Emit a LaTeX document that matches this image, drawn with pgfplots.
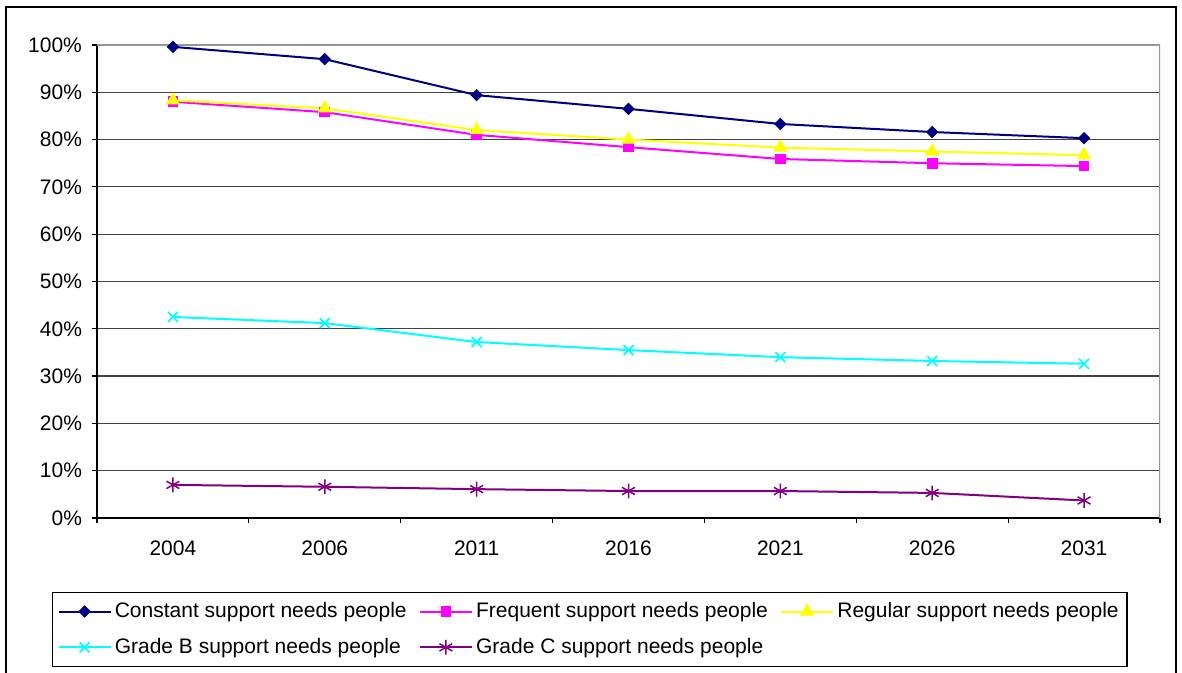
\documentclass[border=0pt]{standalone}
\usepackage{pgfplots}
\pgfplotsset{compat=1.18}
\usepackage{fontspec}
\setmainfont{Liberation Sans}

\definecolor{cNavy}{RGB}{0,0,128}
\definecolor{cMagenta}{RGB}{255,0,255}
\definecolor{cYellow}{RGB}{255,255,0}
\definecolor{cCyan}{RGB}{0,255,255}
\definecolor{cPurple}{RGB}{128,0,128}
\definecolor{cGrid}{RGB}{64,64,64}
\definecolor{cFrame}{RGB}{150,150,150}

\begin{document}
\begin{tikzpicture}
\begin{axis}[
  scale only axis,
  width=531.5pt, height=236.5pt,
  xmin=-0.5, xmax=6.5,
  ymin=0, ymax=100,
  xtick={0,...,6},
  xticklabels={2004,2006,2011,2016,2021,2026,2031},
  minor xtick={-0.5,0.5,...,6.5},
  ytick={0,10,...,100},
  yticklabel={\pgfmathprintnumber{\tick}\%},
  /pgf/number format/assume math mode=true,
  axis x line*=bottom,
  axis y line*=left,
  axis line style={-, black, line width=0.6pt},
  tick align=outside,
  major tick length=2.5pt,
  minor tick length=2.5pt,
  major x tick style={draw=none},
  every tick/.style={black, line width=0.6pt},
  ymajorgrids,
  major grid style={cGrid, line width=0.6pt},
  tick label style={font=\fontsize{10.5}{12}\selectfont},
  yticklabel style={xshift=-1.5pt},
  xticklabel style={yshift=-5.5pt},
  legend columns=3,
  legend cell align=left,
  legend image code/.code={%
    \draw[mark repeat=2,mark phase=2,#1] plot coordinates {(0pt,0pt) (13pt,0pt) (26pt,0pt)};},
  legend style={
    at={(-0.04233,-0.1565)}, anchor=north west,
    draw=black, line width=0.6pt,
    font=\fontsize{10.5}{12}\selectfont,
    inner xsep=2.5pt, inner ysep=0.5pt,
    nodes={inner xsep=1.6pt, inner ysep=4.4pt},
    /tikz/every even column/.append style={column sep=4.5pt},
  },
  every axis plot/.append style={line width=1pt},
]
\draw[cFrame, line width=0.9pt] (rel axis cs:0,1) -- (rel axis cs:1,1) -- (rel axis cs:1,0);

\addplot[color=cNavy, mark=square*, mark size=1.95pt, mark options={rotate=45, line width=0.5pt}]
  coordinates {(0,99.6) (1,97.0) (2,89.4) (3,86.5) (4,83.3) (5,81.6) (6,80.3)};
\addlegendentry{Constant support needs people}

\addplot[color=cMagenta, mark=square*, mark size=2.4pt, mark options={line width=0.5pt}]
  coordinates {(0,88.0) (1,85.8) (2,81.0) (3,78.4) (4,75.9) (5,75.0) (6,74.4)};
\addlegendentry{Frequent support needs people}

\addplot[color=cYellow, mark=triangle*, mark size=3.6pt, mark options={line width=0.5pt}]
  coordinates {(0,88.3) (1,86.6) (2,82.0) (3,80.0) (4,78.3) (5,77.5) (6,76.7)};
\addlegendentry{Regular support needs people}

\addplot[color=cCyan, mark=x, mark size=3.5pt, mark options={line width=0.85pt}]
  coordinates {(0,42.5) (1,41.2) (2,37.2) (3,35.5) (4,34.0) (5,33.2) (6,32.6)};
\addlegendentry{Grade B support needs people}

\addplot[color=cPurple, mark=asterisk, mark size=3.7pt, mark options={line width=0.75pt}]
  coordinates {(0,7.0) (1,6.6) (2,6.1) (3,5.7) (4,5.7) (5,5.3) (6,3.7)};
\addlegendentry{Grade C support needs people}
\end{axis}
% chart border
\draw[black, line width=0.9pt] (-45.5pt,-95pt) rectangle (539.5pt,255.5pt);
\pgfresetboundingbox
\path[use as bounding box] (-48.5pt,-77.5pt) rectangle (542.5pt,259pt);
\end{tikzpicture}
\end{document}
